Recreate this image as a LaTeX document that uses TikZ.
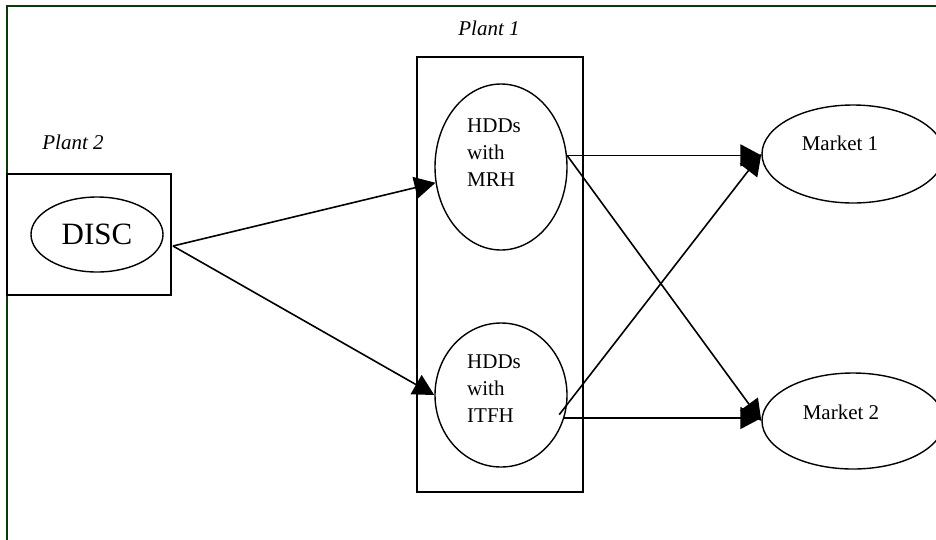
\documentclass[tikz,border=0pt]{standalone}
\usepackage{fontspec}
\setmainfont{Liberation Serif}
\usetikzlibrary{shapes.geometric,arrows.meta}
\definecolor{framegreen}{HTML}{0A3A0A}
\tikzset{
  boxnode/.style={draw=black, line width=1.8pt, rectangle, minimum width=#1, inner sep=0pt},
  ovalnode/.style={draw=black, line width=1.4pt, ellipse, inner sep=0pt},
  txt/.style={font=\fontsize{21}{27}\selectfont, inner sep=0pt},
  plantlbl/.style={font=\fontsize{21}{25}\selectfont\itshape, inner sep=0pt},
  arr/.style={line width=1.6pt, -{Triangle[length=21pt,width=22pt]}},
}
\begin{document}
\begin{tikzpicture}[x=1pt,y=-1pt]
\clip (0,0) rectangle (936,539);
\fill[white] (0,0) rectangle (936,539);
% outer frame
\draw[framegreen, line width=2.2pt] (7,545) -- (7,6) -- (945,6);
% labels
\node[plantlbl] (p2lbl) at (73,142) {Plant 2};
\node[plantlbl] (p1lbl) at (489,28) {Plant 1};
% plant 2
\node[boxnode=164pt, minimum height=121pt] (p2box) at (89,234.5) {};
\node[ovalnode, minimum width=132pt, minimum height=75pt, font=\fontsize{31}{36}\selectfont] (disc) at (97,234.5) {DISC};
% plant 1
\node[boxnode=166pt, minimum height=435pt] (p1box) at (500,274.5) {};
\node[ovalnode, minimum width=132pt, minimum height=166pt] (mrh) at (501,167) {};
\node[txt, anchor=west, align=left] (mrht) at (467,153) {HDDs\\with\\MRH};
\node[ovalnode, minimum width=132pt, minimum height=144pt] (itfh) at (501,395) {};
\node[txt, anchor=west, align=left] (itfht) at (467,389) {HDDs\\with\\ITFH};
% markets
\node[ovalnode, minimum width=182pt, minimum height=98pt] (m1) at (853,154) {};
\node[txt] (m1t) at (840,143) {Market 1};
\node[ovalnode, minimum width=182pt, minimum height=96pt] (m2) at (853,421) {};
\node[txt] (m2t) at (841,412) {Market 2};
% connectors
\coordinate (dsrc) at (173,246);
\draw[arr] (dsrc) -- (mrh);
\draw[arr] (dsrc) -- (itfh.west);
\draw[arr] (mrh.10) -- (mrh.10 -| m1.west);
\draw[arr] (mrh.10) -- (m2.west);
\draw[arr] ([xshift=-6pt]itfh.-17) -- (m1.west);
\draw[arr] (itfh.-20) -- (itfh.-20 -| m2.west);
\end{tikzpicture}
\end{document}
